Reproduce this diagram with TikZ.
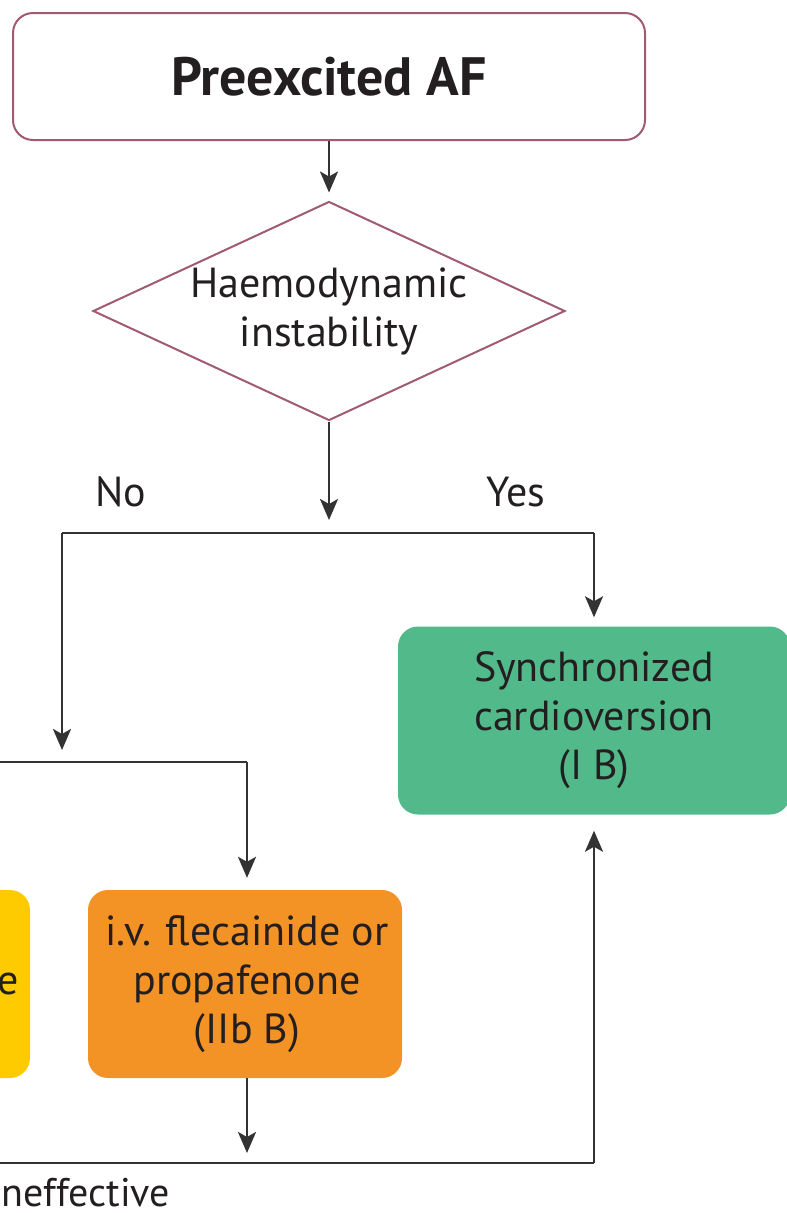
\documentclass[tikz,border=0pt]{standalone}
\usepackage{fontspec}
\setmainfont{PT Sans}
\usetikzlibrary{shapes.geometric,arrows.meta}
\definecolor{frameline}{HTML}{A05A72}
\definecolor{connline}{HTML}{333333}
\definecolor{boxgreen}{HTML}{52B98B}
\definecolor{boxorange}{HTML}{F39325}
\definecolor{boxyellow}{HTML}{FDCB00}
\definecolor{txt}{HTML}{231F20}
\tikzset{
  base/.style={font=\fontsize{42}{49}\selectfont, text=txt, align=center, inner sep=0pt},
  startbox/.style={base, draw=frameline, line width=2pt, rounded corners=20pt,
    minimum width=632pt, minimum height=127pt, fill=white},
  decision/.style={base, shape=diamond, draw=frameline, line width=2pt,
    minimum width=472pt, minimum height=219pt, aspect=2.15},
  actbox/.style={base, rounded corners=20pt, minimum height=188pt},
  conn/.style={draw=connline, line width=2.5pt},
  arr/.style={conn, -{Stealth[length=21pt, width=18pt, inset=5pt]}},
  lbl/.style={base}
}
\begin{document}
\begin{tikzpicture}[x=1pt,y=-1pt]
\clip (0,0) rectangle (787,1213);
\fill[white] (0,0) rectangle (787,1213);

% boxes
\node[startbox] (start) at (329,76.5) {\fontsize{54}{60}\selectfont\bfseries Preexcited AF};
\node[decision] (dia) at (329,311) {Haemodynamic\\instability};
\node[actbox, fill=boxgreen, minimum width=392pt] (cv) at (594,720.5)
  {Synchronized\\cardioversion\\(I B)};
\node[actbox, fill=boxorange, minimum width=314pt] (flec) at (245,984) {};
\node[base] (fleclbl) at (247,984) {i.v. flecainide or\\propafenone\\(IIb B)};
\node[actbox, fill=boxyellow, minimum width=314pt] (yel) at (-127,984) {};
\node[base, anchor=east] (yellbl) at (19,984) {e};

% junction points
\coordinate (j0) at (329,533);
\coordinate (jl) at (62,533);
\coordinate (jr) at (594,533);
\coordinate (jd) at (62,762);
\coordinate (ja) at (-5,762);
\coordinate (jb) at (247,762);
\coordinate (jc) at (-5,1163);
\coordinate (je) at (247,1163);
\coordinate (jf) at (594,1163);

% labels
\node[lbl] (no) at (121,492) {No};
\node[lbl] (yes) at (516,492) {Yes};
\node[lbl, anchor=west, font=\fontsize{40}{48}\selectfont] (ineff) at (1,1193) {neffective};

% connectors
\draw[arr, shorten >=8pt] (start.south) -- (dia.north);
\draw[arr, shorten >=13pt] (dia.south) -- (j0);
\draw[conn] (jl) -- (jr);
\draw[arr, shorten >=9pt] (jr) -- (jr |- cv.north);
\draw[arr, shorten >=12pt] (jl) -- (jd);
\draw[conn] (ja) -- (jb);
\draw[arr, shorten >=12pt] (jb) -- (jb |- flec.north);
\draw[arr, shorten >=10pt] (fleclbl |- flec.south) -- (je);
\draw[conn] (jc) -- (jf);
\draw[arr, shorten >=16pt] (jf) -- (jf |- cv.south);
\end{tikzpicture}
\end{document}
